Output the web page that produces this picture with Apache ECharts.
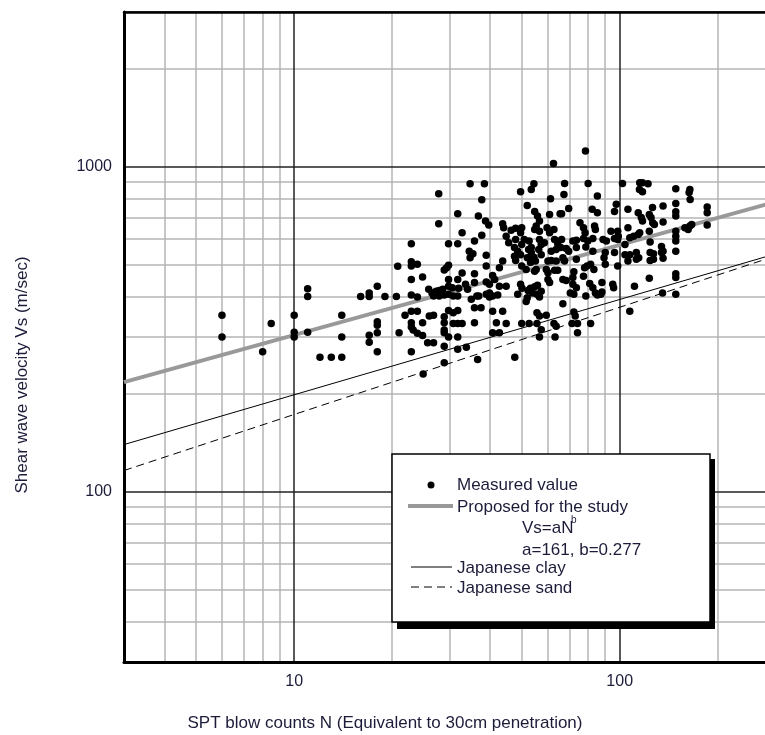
<!DOCTYPE html>
<html>
<head>
<meta charset="utf-8">
<script src="https://cdn.jsdelivr.net/npm/echarts@6/dist/echarts.min.js"></script>
<style>
html,body{margin:0;padding:0;background:#fff;overflow:hidden;}
#chart{width:765px;height:735px;}
</style>
</head>
<body>
<div id="chart"></div>
<script>
// ---- data ----
const xTickLabels = [10, 100];
const yTickLabels = [100, 1000];
const xMinorGrid = [4, 5, 6, 7, 8, 9, 20, 30, 40, 50, 60, 70, 80, 90, 200];
const yMinorGrid = [40, 50, 60, 70, 80, 90, 200, 300, 400, 500, 600, 700, 800, 900, 2000];

// Measured value: [SPT N, Vs (m/sec)]
const measured = [
  [6,350],[6,300],[8.5,330],[8,270],[10,350],[10,310],[10,300],[11,422],[11,400],[11,310],
  [12,260],[13,260],[14,260],[14,350],[14,300],[16,400],[17,410],[17,400],[18,430],[19,400],
  [20.6,400],[18,334],[18,326],[18,309],[17,304],[17,289],[18,270],[21,309],
  [34.7,889],[38.4,889],[27.8,828],[37.7,793],[31.8,718],[36.8,707],[27.8,669],[38.7,682],[39.6,663],[32.8,628],
  [37.7,617],[43.7,669],[44.0,651],[46.4,639],[47.9,648],[44.8,612],[45.6,585],[47.9,599],[22.9,581],[29.8,581],
  [31.8,581],[35.8,592],[34.5,551],[35.4,541],[34.7,526],[38.9,535],[47.5,532],[47.9,516],[43.7,514],[22.9,511],
  [22.9,496],[23.9,502],[20.8,495],[29.8,499],[29.4,490],[28.9,482],[38.9,496],[42.7,490],[32.8,472],[35.8,470],
  [40.7,464],[41.3,451],[22.9,451],[24.8,459],[29.8,451],[31.8,451],[38.9,443],[39.8,436],[42.7,430],[44.8,430],
  [33.6,436],[34.1,421],[35.8,441],[29.8,430],[30.6,425],[28.6,421],[27.9,417],[27.3,415],[26.5,410],[25.9,421],
  [26.8,401],[27.9,401],[28.9,404],[29.8,406],[30.8,401],[31.8,401],[32.0,424],[35.0,392],[36.4,401],[36.9,401],
  [38.9,406],[39.8,410],[40.7,401],[42.2,404],[39.8,398],[48.6,406],[22.9,404],[23.9,398],[35.8,369],[37.5,369],
  [40.7,360],[43.7,360],[21.9,350],[22.9,360],[23.9,360],[26.0,348],[26.8,350],[24.8,332],[28.9,346],[29.8,362],
  [30.8,356],[31.8,362],[22.9,332],[22.9,322],[23.2,315],[23.9,308],[28.9,332],[28.9,315],[30.8,330],[31.8,330],
  [32.8,330],[35.8,332],[41.8,332],[44.8,330],[24.8,303],[28.9,309],[29.8,300],[31.8,300],[40.7,309],[42.7,309],
  [25.7,288],[26.8,288],[28.9,281],[31.8,275],[33.8,279],[22.9,270],[28.9,250],[36.6,256],[24.9,231],[47.6,260],
  [78.5,1120],[62.6,1025],[67.7,890],[80,890],[102,890],[54.5,889],[53.5,853],[49.6,840],[67.4,824],[61.3,799],
  [85.4,814],[52,762],[69.7,746],[60.9,715],[65.6,718],[66.3,718],[54.8,730],[55.9,707],[56.7,682],[82.3,741],
  [85.4,723],[97.6,768],[96.4,730],[106,741],
  [50,651],[49.6,628],[54.8,643],[55.4,659],[56.7,635],[59.8,651],[60.9,628],[62.8,643],[75.5,674],[77.4,651],
  [78.3,628],[83.7,659],[84.2,643],[94,635],[98.6,635],[99,612],[106,651],
  [50.9,599],[50,578],[52.7,592],[53.5,566],[56.7,599],[57.4,578],[58.7,585],[63.1,599],[64.5,581],[66.3,599],
  [71.8,592],[73.6,595],[77.4,603],[79.8,592],[82.7,603],[88.9,599],[91,592],[96.4,603],[98.6,599],[103.8,578],
  [47.5,566],[48.6,551],[49.6,537],[52.5,558],[53.5,546],[54.5,528],[56.4,558],[57.4,537],[61.6,551],[63.8,558],
  [65.9,566],[68.5,562],[69.7,551],[73.6,566],[78.7,568],[82.7,551],[89.5,526],[90.3,546],[96.4,546],[103.8,537],
  [106,514],
  [52,526],[53.2,509],[55.1,514],[60.2,514],[61.6,516],[63.8,514],[66.9,526],[67.7,514],[73.6,520],[78,490],
  [79.4,496],[83.3,484],[81.4,502],[90.3,502],[98.6,496],[50,496],[51.6,484],[54.8,478],[55.4,484],[59.5,484],
  [60.2,473],[63.1,481],[64.5,481],[72.3,476],[71.8,457],[77.4,461],
  [49.6,436],[50.1,424],[53.2,424],[54.8,428],[55.9,433],[60.2,451],[60.9,441],[66.9,451],[68.5,448],[71.8,436],
  [73.6,425],[80.9,438],[82.7,425],[88.2,441],[95.8,425],[95.2,436],[52.3,417],[54,410],[55.7,406],[56.7,398],
  [57.4,415],[52,396],[51.6,386],[70.5,410],[72.3,406],[78.7,401],[84.2,410],[85.4,404],[87.5,406],[88.2,413],
  [66.9,380],[55.7,356],[56.7,348],[59.5,350],[72.3,358],[73,348],[50,330],[52.7,330],[55.7,330],[62.8,330],
  [63.8,324],[71.4,330],[74.2,330],[81.4,330],[57.4,316],[74.2,309],[56.7,300],[63.3,300],
  [115.2,895],[117.5,895],[122.2,889],[115,853],[117.5,840],[148.7,858],[164.3,853],[163.4,835],[164.6,795],[148.7,773],
  [135.9,759],[126.1,751],[114,723],[116.5,699],[117.5,682],[123.3,715],[124.8,699],[126.3,674],[127.8,666],[135.9,678],
  [148.7,728],[148.7,707],[185.7,754],[185.7,723],[185.7,663],[158.6,651],[162.3,643],[164.3,659],[166.4,666],[107.4,606],
  [110.4,612],[114,620],[115.2,628],[123.3,635],[124,588],[148.7,635],[148.7,612],[148.7,592],[148.7,551],[107.4,537],
  [112.5,546],[112.5,520],[114.4,526],[124,546],[124,516],[127,520],[127,541],[134.4,570],[135.9,551],[135.9,524],
  [134.4,546],[123.3,455],[148.7,470],[148.7,457],[111,430],[135.4,410],[148.7,406],[107.4,360]
];

// Fitted lines, end points read at N = 3 and N = 300
const proposedLine = [[3, 218], [300, 781]];   // Vs = 161 N^0.277
const clayLine = [[3, 140], [300, 540]];
const sandLine = [[3, 116.5], [300, 532]];

// ---- chart ----
const FONT = '"Liberation Sans", Arial, Helvetica, sans-serif';
const TXT = '#1c1c3a';
const chart = echarts.init(document.getElementById('chart'), null, {renderer: 'canvas'});

function tickFmt(list) {
  return function (v) {
    const r = Math.round(v);
    return list.indexOf(r) >= 0 && Math.abs(v - r) < 1e-6 * r + 1e-6 ? String(r) : '';
  };
}

const option = {
  backgroundColor: '#fff',
  animation: false,
  grid: {left: 124, top: 12, width: 651, height: 650, containLabel: false, outerBoundsMode: 'none'},
  xAxis: [{
    type: 'log', logBase: 10, min: 3, max: 300, z: 1,
    axisLine: {show: true, onZero: false, lineStyle: {color: '#000', width: 3}},
    axisTick: {show: false},
    axisLabel: {formatter: tickFmt(xTickLabels), color: TXT, fontSize: 16, fontFamily: FONT, margin: 12,
      showMinLabel: true, showMaxLabel: true},
    splitLine: {show: true, lineStyle: {color: '#222', width: 1.5}}
  }, {
    type: 'log', logBase: 10, min: 3, max: 300, position: 'top', z: 1,
    axisLine: {show: true, onZero: false, lineStyle: {color: '#000', width: 2.5}},
    axisTick: {show: false}, axisLabel: {show: false}, splitLine: {show: false}
  }],
  yAxis: {
    type: 'log', logBase: 10, min: 30, max: 3000, z: 1,
    axisLine: {show: true, onZero: false, lineStyle: {color: '#000', width: 3}},
    axisTick: {show: false},
    axisLabel: {formatter: tickFmt(yTickLabels), color: TXT, fontSize: 16, fontFamily: FONT, margin: 12},
    splitLine: {show: true, lineStyle: {color: '#222', width: 1.5}}
  },
  series: [
    {
      type: 'line', name: 'minor grid', data: [], z: 0, silent: true,
      markLine: {
        silent: true, symbol: ['none', 'none'], z: 0, animation: false,
        label: {show: false},
        lineStyle: {color: '#b4b4b4', width: 1.5, type: 'solid'},
        emphasis: {disabled: true},
        data: xMinorGrid.map(v => ({xAxis: v})).concat(yMinorGrid.map(v => ({yAxis: v})))
      }
    },
    {
      type: 'line', name: 'Proposed for the study', data: proposedLine, z: 2,
      symbol: 'none', lineStyle: {color: '#999', width: 4}, silent: true
    },
    {
      type: 'line', name: 'Japanese clay', data: clayLine, z: 2,
      symbol: 'none', lineStyle: {color: '#000', width: 1}, silent: true
    },
    {
      type: 'line', name: 'Japanese sand', data: sandLine, z: 2,
      symbol: 'none', lineStyle: {color: '#000', width: 1, type: [8, 5]}, silent: true
    },
    {
      type: 'scatter', name: 'Measured value', data: measured, z: 3,
      symbol: 'circle', symbolSize: 7.5, itemStyle: {color: '#000', opacity: 1}, silent: true
    }
  ],
  graphic: [
    {type: 'text', x: 385, y: 723, z: 20,
      style: {text: 'SPT blow counts N (Equivalent to 30cm penetration)', font: '17px ' + FONT,
        fill: TXT, align: 'center', verticalAlign: 'middle'}},
    {type: 'text', x: 22, y: 375, rotation: Math.PI / 2, z: 20,
      style: {text: 'Shear wave velocity Vs (m/sec)', font: '17px ' + FONT,
        fill: TXT, align: 'center', verticalAlign: 'middle'}},
    // legend box
    {type: 'rect', z: 30, shape: {x: 397, y: 459, width: 318, height: 170}, style: {fill: '#000'}},
    {type: 'rect', z: 31, shape: {x: 392, y: 454, width: 318, height: 168},
      style: {fill: '#fff', stroke: '#000', lineWidth: 1.5}},
    {type: 'circle', z: 32, shape: {cx: 431, cy: 485, r: 3.5}, style: {fill: '#000'}},
    {type: 'text', z: 32, x: 457, y: 485,
      style: {text: 'Measured value', font: '17px ' + FONT, fill: TXT, verticalAlign: 'middle'}},
    {type: 'line', z: 32, shape: {x1: 408, y1: 506, x2: 453, y2: 506}, style: {stroke: '#999', lineWidth: 4}},
    {type: 'text', z: 32, x: 457, y: 507,
      style: {text: 'Proposed for the study', font: '17px ' + FONT, fill: TXT, verticalAlign: 'middle'}},
    {type: 'text', z: 32, x: 522, y: 528,
      style: {text: 'Vs=aN', font: '17px ' + FONT, fill: TXT, verticalAlign: 'middle'}},
    {type: 'text', z: 32, x: 571, y: 520,
      style: {text: 'b', font: '10px ' + FONT, fill: TXT, verticalAlign: 'middle'}},
    {type: 'text', z: 32, x: 522, y: 550,
      style: {text: 'a=161, b=0.277', font: '17px ' + FONT, fill: TXT, verticalAlign: 'middle'}},
    {type: 'line', z: 32, shape: {x1: 411, y1: 567, x2: 452, y2: 567}, style: {stroke: '#000', lineWidth: 1}},
    {type: 'text', z: 32, x: 457, y: 568,
      style: {text: 'Japanese clay', font: '17px ' + FONT, fill: TXT, verticalAlign: 'middle'}},
    {type: 'line', z: 32, shape: {x1: 411, y1: 587, x2: 452, y2: 587},
      style: {stroke: '#000', lineWidth: 1, lineDash: [8, 5]}},
    {type: 'text', z: 32, x: 457, y: 588,
      style: {text: 'Japanese sand', font: '17px ' + FONT, fill: TXT, verticalAlign: 'middle'}}
  ]
};
chart.setOption(option);
</script>
</body>
</html>
